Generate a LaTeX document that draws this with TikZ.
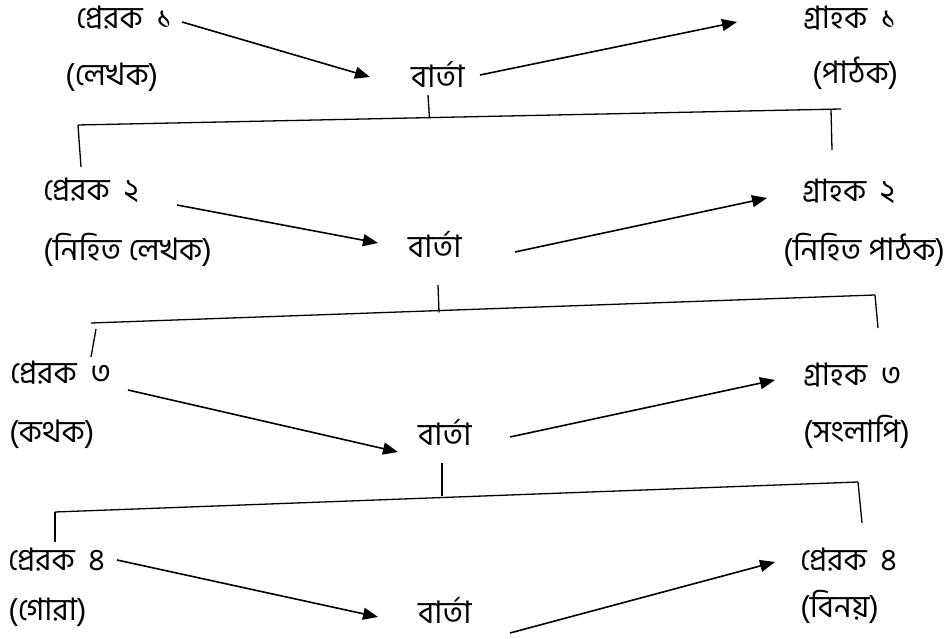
\documentclass[tikz,border=0pt]{standalone}
\usepackage{fontspec}
\newfontfamily\bn[Script=Bengali]{Hind Siliguri}
\usetikzlibrary{arrows.meta,calc}
% wider gap before the number in a role label
\newcommand{\numgap}{\hspace{0.22em}}
\begin{document}
\begin{tikzpicture}[x=1pt,y=1pt,
  lbl/.style={anchor=west, inner sep=0pt, text height=22pt, text depth=0pt,
    font=\bn\fontsize{31}{37}\selectfont},
  arr/.style={line width=1.6pt, -{Triangle[length=15pt,width=12pt]}},
  brk/.style={line width=1.3pt}]
\useasboundingbox[fill=white] (0,0) rectangle (950,639);

% level 1
\node[lbl] (s1)  at (76,621) {প্রেরক \numgap১};
\node[lbl] (s1b) at (65,564) {(লেখক)};
\node[lbl] (m1)  at (411,562) {বার্তা};
\node[lbl] (r1)  at (803,621) {গ্রাহক \numgap১};
\node[lbl] (r1b) at (812,566) {(পাঠক)};

% level 2
\node[lbl] (s2)  at (43,449) {প্রেরক \numgap২};
\node[lbl] (s2b) at (43,389) {(নিহিত লেখক)};
\node[lbl] (m2)  at (408,392) {বার্তা};
\node[lbl] (r2)  at (802,448) {গ্রাহক \numgap২};
\node[lbl] (r2b) at (783,389) {(নিহিত পাঠক)};

% level 3
\node[lbl] (s3)  at (10,266) {প্রেরক \numgap৩};
\node[lbl] (s3b) at (9,207) {(কথক)};
\node[lbl] (m3)  at (418,204) {বার্তা};
\node[lbl] (r3)  at (803,264) {গ্রাহক \numgap৩};
\node[lbl] (r3b) at (803,207) {(সংলাপি)};

% level 4
\node[lbl] (s4)  at (8,79) {প্রেরক \numgap৪};
\node[lbl] (s4b) at (8,29) {(গোরা)};
\node[lbl] (m4)  at (418,26) {বার্তা};
\node[lbl] (r4)  at (800,79) {প্রেরক \numgap৪};
\node[lbl] (r4b) at (800,32) {(বিনয়)};

% sender -> message -> receiver
\draw[arr] ($(s1.west)+(106,-4)$) -- ($(m1.west)+(-41,0)$);
\draw[arr] ($(m1.west)+(69,2)$) -- ($(r1.west)+(-66,-4)$);
\draw[arr] ($(s2.west)+(134,-15)$) -- ($(m2.west)+(-30,4)$);
\draw[arr] ($(m2.west)+(107,-5)$) -- ($(r2.west)+(-35,-7)$);
\draw[arr] ($(s3.west)+(118,-17)$) -- ($(m3.west)+(-20,-17)$);
\draw[arr] ($(m3.west)+(92,-2)$) -- ($(r3.west)+(-28,-5)$);
\draw[arr] ($(s4.west)+(109,0)$) -- ($(m4.west)+(-40,-4)$);
\draw[arr] ($(m4.west)+(92,-20)$) -- ($(r4.west)+(-25,-2)$);

% brackets linking one level to the next
\coordinate (b1l) at (78,514);  \coordinate (b1r) at (841,530);
\coordinate (b1c) at (429.5,520.5);
\draw[brk] (b1l) -- (b1r);
\draw[brk] (b1l) -- (81,472);
\draw[brk] (831,529.5) -- (832,489);
\draw[brk] (428,544) -- (b1c);

\coordinate (b2l) at (91,316);  \coordinate (b2r) at (875,344);
\draw[brk] (b2l) -- (b2r);
\draw[brk] (96,310) -- (91,282);
\draw[brk] (b2r) -- (878,311);
\draw[brk] (438,354) -- (439,326.5);

\coordinate (b3l) at (55,127);  \coordinate (b3r) at (858,157);
\draw[brk] (b3l) -- (b3r);
\draw[brk] (b3l) -- (55,97);
\draw[brk] (b3r) -- (862,116);
\draw[brk] (442,176) -- (442,142.5);
\end{tikzpicture}
\end{document}
